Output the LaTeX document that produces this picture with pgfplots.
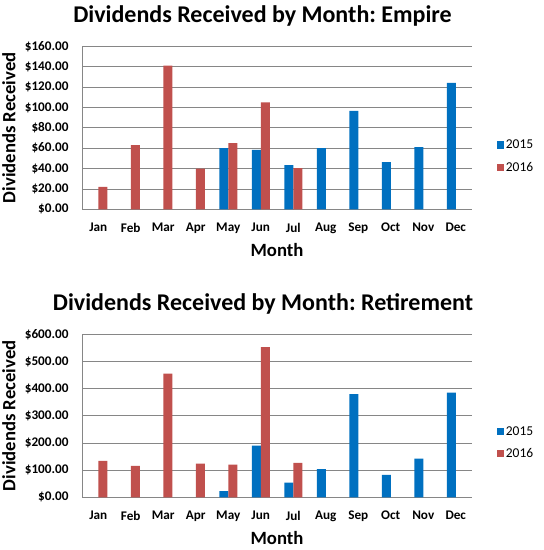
\documentclass[border=0pt]{standalone}
\usepackage{pgfplots}
\pgfplotsset{compat=1.18}
\usepackage{fontspec}
\setmainfont{Carlito}
\frenchspacing

\definecolor{blue15}{HTML}{0070C0}
\definecolor{red16}{HTML}{C0504D}
\definecolor{gridgray}{HTML}{868686}

\pgfplotsset{
  divchart/.style={
    scale only axis,
    width=390bp, height=163bp,
    anchor=south west,
    ybar=0pt, bar width=9bp,
    xmin=0.5, xmax=12.5,
    xtick={1,...,12},
    xticklabels={Jan,Feb,Mar,Apr,May,Jun,Jul,Aug,Sep,Oct,Nov,Dec},
    ymin=0,
    axis x line*=bottom, axis y line*=left,
    axis line style={gridgray, line width=0.8pt},
    ymajorgrids, grid style={gridgray, line width=0.8pt},
    major tick length=0pt,
    /pgf/number format/assume math mode=true,
    tick label style={font=\fontsize{13.2bp}{15bp}\selectfont\bfseries},
    xticklabel style={yshift=-10bp},
    yticklabel style={xshift=-10bp},
    xlabel={Month}, ylabel={Dividends Received},
    label style={font=\fontsize{18.7bp}{21bp}\selectfont\bfseries},
    xlabel style={at={(axis description cs:0.5,0)}, anchor=center, yshift=-41bp},
    ylabel style={at={(axis description cs:0,0.5)}, anchor=center, yshift=73bp},
    legend style={draw=none, fill=none, anchor=west,
      font=\fontsize{13.5bp}{16bp}\selectfont, row sep=8bp,
      legend cell align=left},
    clip=false,
  },
  sq/.style={legend image code/.code={\fill[##1] (0bp,-3.6bp) rectangle (7.2bp,3.6bp);}},
}

\begin{document}
\begin{tikzpicture}[x=1bp,y=1bp]
\path[use as bounding box] (0,0) rectangle (544,550);

\node[font=\fontsize{24bp}{27bp}\selectfont\bfseries, anchor=base] at (262.5,527.5)
  {Dividends Received by Month: Empire};
\node[font=\fontsize{24bp}{27bp}\selectfont\bfseries, anchor=base] at (263,239)
  {Dividends Received by Month: Retirement};

\begin{axis}[divchart, at={(82bp,340.7bp)},
  ymax=160, ytick={0,20,...,160},
  yticklabels={\$0.00,\$20.00,\$40.00,\$60.00,\$80.00,\$100.00,\$120.00,\$140.00,\$160.00},
  legend style={at={(1.055,0.325)}}]
\addplot[sq, fill=blue15, draw=none] coordinates {
  (5,60) (6,58.4) (7,43.4) (8,60) (9,96.6) (10,46.3) (11,61) (12,124)
};
\addlegendentry{2015}
\addplot[sq, fill=red16, draw=none] coordinates {
  (1,22) (2,63) (3,141) (4,40) (5,65) (6,105) (7,40.5)
};
\addlegendentry{2016}
\end{axis}

\begin{axis}[divchart, at={(82bp,52.7bp)},
  ymax=600, ytick={0,100,...,600},
  yticklabels={\$0.00,\$100.00,\$200.00,\$300.00,\$400.00,\$500.00,\$600.00},
  legend style={at={(1.055,0.335)}}]
\addplot[sq, fill=blue15, draw=none] coordinates {
  (5,23) (6,190) (7,54) (8,104) (9,380) (10,83) (11,142) (12,385)
};
\addlegendentry{2015}
\addplot[sq, fill=red16, draw=none] coordinates {
  (1,134) (2,116) (3,455) (4,124) (5,120) (6,553) (7,127)
};
\addlegendentry{2016}
\end{axis}
\end{tikzpicture}
\end{document}
